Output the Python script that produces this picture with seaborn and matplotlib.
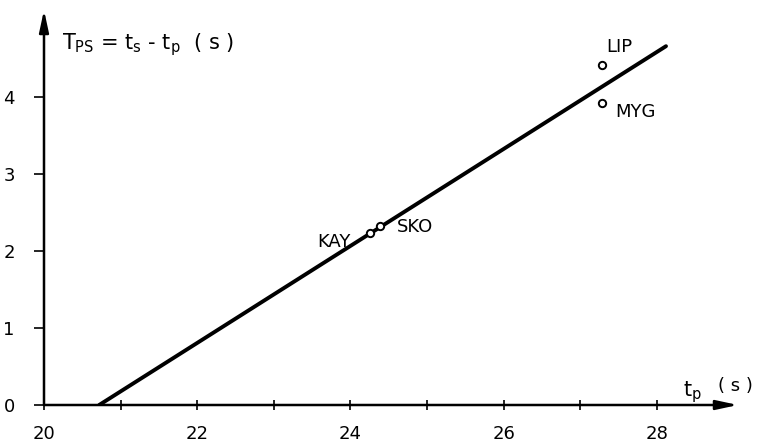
import matplotlib
matplotlib.use('Agg')
import matplotlib.pyplot as plt
import seaborn as sns
import pandas as pd

sns.set_style('white')
plt.rcParams['font.family'] = ['DejaVu Sans']
plt.rcParams['mathtext.default'] = 'regular'
plt.rcParams['text.color'] = 'k'

# stations
stations = ['LIP', 'MYG', 'KAY', 'SKO']
tp = [27.28, 27.29, 24.26, 24.38]
tps = [4.41, 3.92, 2.23, 2.32]

# fitted line end points
line_tp = [20.72, 28.12]
line_tps = [0.0, 4.66]

xticks = list(range(20, 29))
xticklabels = ['20', '', '22', '', '24', '', '26', '', '28']
yticks = [0, 1, 2, 3, 4]

pts = pd.DataFrame({'station': stations, 'tp': tp, 'tps': tps})
fit = pd.DataFrame({'tp': line_tp, 'tps': line_tps})

fig = plt.figure(figsize=(7.58, 4.46), dpi=100)
ax = fig.add_axes([44 / 758, 41 / 446, (738 - 44) / 758, (436 - 41) / 446])

sns.lineplot(x='tp', y='tps', data=fit, color='k', linewidth=2.8, ax=ax)
sns.scatterplot(x='tp', y='tps', data=pts, marker='o', s=28, facecolor='white',
                edgecolor='k', linewidth=1.4, zorder=5, ax=ax)

offsets = {'LIP': (5, 18, 'left'), 'MYG': (13, -9, 'left'),
           'KAY': (-20, -9, 'right'), 'SKO': (17, -1, 'left')}
for name, x, y in zip(stations, tp, tps):
    dx, dy, ha = offsets[name]
    ax.annotate(name, (x, y), xytext=(dx, dy), textcoords='offset pixels',
                ha=ha, va='center', fontsize=13, color='k')

ax.set_xlim(20, 29.06)
ax.set_ylim(0, 5.13)
ax.set_xticks(xticks)
ax.set_xticklabels(xticklabels)
ax.set_yticks(yticks)
ax.set_xlabel('')
ax.set_ylabel('')
for s in ax.spines.values():
    s.set_visible(False)
ax.tick_params(axis='x', direction='inout', length=7, width=1.2, pad=11, labelsize=13,
               colors='k', labelcolor='k')
ax.tick_params(axis='y', direction='out', length=7, width=1.2, pad=14, labelsize=13,
               colors='k', labelcolor='k')
ax.tick_params(bottom=True, left=True)

# axes drawn as arrows
arrow = dict(arrowstyle='-|>,head_length=1.3,head_width=0.28', color='k', lw=1.8,
             shrinkA=0, shrinkB=0)
ax.annotate('', xy=(1, 0), xytext=(0, 0), xycoords='axes fraction', arrowprops=arrow,
            annotation_clip=False)
ax.annotate('', xy=(0, 1), xytext=(0, 0), xycoords='axes fraction', arrowprops=arrow,
            annotation_clip=False)

fig.text(62 / 758, 1 - 45 / 446, r'$T_{PS}$ = $t_s$ - $t_p$  ( s )', fontsize=15, va='center')
fig.text(683 / 758, 1 - 392 / 446, r'$t_p$', fontsize=15, va='center')
fig.text(718 / 758, 1 - 386 / 446, '( s )', fontsize=13, va='center')

fig.savefig('out.png', dpi=100)
